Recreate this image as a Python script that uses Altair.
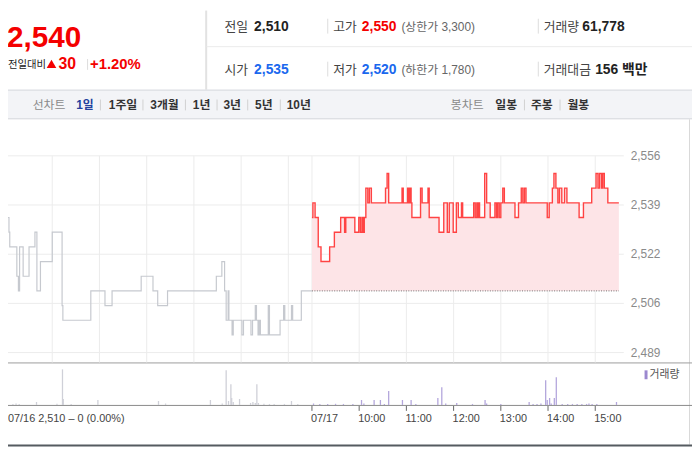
import altair as alt
import pandas as pd

# ---------------- data ----------------
current_price = "2,540"
change_abs = "30"
change_pct = "+1.20%"
change_caption = "전일대비"

info_labels_row1 = ["전일", "고가", "거래량"]
info_values_row1 = ["2,510", "2,550", "61,778"]
info_labels_row2 = ["시가", "저가", "거래대금"]
info_values_row2 = ["2,535", "2,520", "156 백만"]
limit_texts = ["(상한가 3,300)", "(하한가 1,780)"]

line_tabs_title = "선차트"
line_tabs = ["1일", "1주일", "3개월", "1년", "3년", "5년", "10년"]
candle_tabs_title = "봉차트"
candle_tabs = ["일봉", "주봉", "월봉"]

prev_close = 2510
session_minutes = 390  # 09:00 - 15:30

# previous day (07/16): minutes after 09:00 and price at each change
prev_t = [0, 5, 6, 15, 17, 18.5, 23, 30.5, 38, 40.5, 45, 60, 72.5, 73.5, 109, 127,
          136, 173, 188, 194, 206.5, 268.5, 275.5, 279, 281, 283.5, 284.5, 288.5,
          290, 301, 303, 312.5, 314.5, 318, 319.5, 321.5, 323, 324.5, 334.5, 336,
          349.5, 354, 355.5, 364, 365.5, 376.5, 390]
prev_p = [2535, 2530, 2525, 2515, 2510, 2525, 2515, 2525, 2530, 2510, 2520, 2530,
          2505, 2500, 2510, 2505, 2510, 2515, 2510, 2505, 2510, 2515, 2520, 2510,
          2500, 2510, 2500, 2495, 2500, 2495, 2500, 2495, 2500, 2505, 2500, 2495,
          2500, 2495, 2505, 2495, 2500, 2505, 2500, 2505, 2500, 2510, 2510]

# today (07/17)
today_t = [0, 1.2, 4, 8, 11.5, 22.5, 28.5, 36.5, 41.5, 43, 54.5, 59.5, 61.5, 63.5,
           65, 66.5, 68.5, 71, 73, 75.5, 93.5, 95.5, 97.5, 114.5, 116, 121.5, 123,
           124.5, 126, 127, 138, 140, 147.5, 149, 161.5, 167.5, 172, 174.5, 179.5,
           183.5, 186, 190, 191.5, 205.5, 207.5, 209.5, 211, 212, 213, 219.5, 222,
           226.5, 232.5, 234.5, 236, 238, 240, 242.5, 244.5, 258, 262.5, 266, 268,
           270, 272, 299, 301.5, 305.5, 307.5, 310, 312.5, 314.5, 317.5, 321, 324,
           339.5, 345, 355.5, 361, 363.5, 365.5, 368, 369.5, 371.5, 376, 390]
today_p = [2535, 2540, 2535, 2525, 2520, 2525, 2530, 2535, 2530, 2535, 2530, 2535,
           2530, 2535, 2530, 2535, 2545, 2540, 2545, 2540, 2545, 2550, 2540, 2545,
           2540, 2545, 2540, 2545, 2540, 2535, 2545, 2540, 2545, 2535, 2530, 2540,
           2530, 2540, 2530, 2540, 2535, 2540, 2535, 2540, 2535, 2540, 2535, 2540,
           2535, 2550, 2540, 2535, 2540, 2535, 2540, 2535, 2540, 2545, 2540, 2535,
           2540, 2545, 2540, 2545, 2540, 2535, 2540, 2545, 2550, 2545, 2540, 2545,
           2540, 2545, 2540, 2535, 2540, 2545, 2550, 2545, 2550, 2545, 2550, 2545,
           2540, 2540]

prev_vol_t = [10, 14, 18, 40, 66, 73, 74, 84, 118, 195, 204, 261, 276, 281, 284,
              287, 288, 290, 298, 312, 315, 318, 320, 322, 329, 336, 342, 355, 364, 372]
prev_vol = [350, 500, 350, 1050, 400, 12600, 2100, 350, 1750, 1400, 500, 1750, 500,
            12250, 1400, 7350, 2450, 1050, 2100, 700, 1050, 700, 7350, 700, 400, 350,
            350, 350, 1400, 350]

today_vol_t = [2, 10, 20, 30, 40, 52, 63, 66, 79, 87, 92, 97.5, 115, 126, 132, 160,
               165, 170, 184, 204, 220, 222, 240, 276, 281, 286, 291, 297, 299, 302,
               304, 308, 310.5, 318, 325, 331, 337, 343, 349, 352, 356, 362, 387]
today_vol = [500, 350, 350, 400, 350, 350, 1750, 500, 1750, 1750, 350, 4900, 1750,
             1750, 350, 2450, 6300, 500, 700, 350, 1750, 500, 350, 1050, 350, 350,
             500, 8750, 1750, 2450, 500, 2450, 9800, 350, 350, 350, 350, 350, 350,
             500, 350, 350, 1050]

price_ticks = [2489, 2505.75, 2522.5, 2539.25, 2556]
price_tick_labels = ["2,489", "2,506", "2,522", "2,539", "2,556"]
grid_minutes = [60, 120, 180, 240, 300, 360, 390, 450, 510, 570, 630, 690, 750]
time_ticks = [0, 390, 450, 510, 570, 630, 690, 750]
time_labels = ["07/17", "10:00", "11:00", "12:00", "13:00", "14:00", "15:00"]
first_day_label = "07/16  2,510 – 0 (0.00%)"
volume_label = "거래량"

# ---------------- build ----------------
FONT = "'Liberation Sans', Arial, 'Noto Sans CJK KR', sans-serif"
RED = "#f40000"
BLUE = "#1a68ee"

prev_df = pd.DataFrame({"m": prev_t, "p": prev_p})
today_df = pd.DataFrame({"m": [session_minutes + t for t in today_t], "p": today_p})
pvol_df = pd.DataFrame({"m": prev_vol_t, "v": prev_vol})
tvol_df = pd.DataFrame({"m": [session_minutes + t for t in today_vol_t], "v": today_vol})
grid_df = pd.DataFrame({"m": grid_minutes})
ptick_df = pd.DataFrame({"p": price_ticks, "lab": price_tick_labels})
tick_df = pd.DataFrame({"m": time_ticks})
tlab_df = pd.DataFrame({"m": time_ticks[1:], "lab": time_labels})
pc_df = pd.DataFrame({"m": [session_minutes, 2 * session_minutes], "p": [prev_close, prev_close]})
one = pd.DataFrame({"k": [0]})

XS = alt.Scale(domain=[0, 2 * session_minutes], range=[-8, 623], zero=False, nice=False)
PY = alt.Scale(domain=[2489, 2556], range=[346, 147], zero=False, nice=False)
VY = alt.Scale(domain=[0, 14000], range=[399, 359], zero=False, nice=False)

def X(field="m"):
    return alt.X(f"{field}:Q", scale=XS, axis=None)

def txt(s, x, y, size=12, color="#333", weight="normal", baseline="alphabetic", align="left"):
    return alt.Chart(one).mark_text(align=align, baseline=baseline, fontSize=size, color=color,
                                    fontWeight=weight, font=FONT).encode(
        x=alt.value(x), y=alt.value(y), text=alt.value(s))

def hline(x1, x2, y, color, w=1):
    return alt.Chart(one).mark_rule(color=color, strokeWidth=w).encode(
        x=alt.value(x1), x2=alt.value(x2), y=alt.value(y))

def vline(x, y1, y2, color, w=1):
    return alt.Chart(one).mark_rule(color=color, strokeWidth=w).encode(
        x=alt.value(x), y=alt.value(y1), y2=alt.value(y2))

layers = []

# toolbar background
layers.append(alt.Chart(one).mark_rect(color="#f3f4f7").encode(
    x=alt.value(0), x2=alt.value(692), y=alt.value(80), y2=alt.value(110)))

# frame lines
layers += [
    vline(200.5, 0, 80, "#e2e2e2", 2),
    hline(201, 692, 36.5, "#ebebeb"),
    hline(0, 692, 80.5, "#d6d8dd"),
    hline(0, 692, 109.5, "#d6d8dd"),
    vline(689.5, 110, 439, "#d9d9d9"),
    hline(0, 692, 356.5, "#9c9c9c"),
    hline(0, 692, 399.5, "#8a8a8a"),
    hline(0, 692, 440, "#555b60", 2),
]

# grid
layers.append(alt.Chart(grid_df).mark_rule(color="#ececec", strokeWidth=1).encode(
    x=X(), y=alt.value(147), y2=alt.value(356)))
layers.append(alt.Chart(ptick_df).mark_rule(color="#ececec", strokeWidth=1).encode(
    y=alt.Y("p:Q", scale=PY, axis=None), x=alt.value(-8), x2=alt.value(623)))
layers.append(alt.Chart(ptick_df).mark_text(align="left", baseline="middle", fontSize=12,
                                           color="#8a8a8a", font=FONT).encode(
    y=alt.Y("p:Q", scale=PY, axis=None), x=alt.value(630), text="lab:N"))

# price
layers.append(alt.Chart(today_df).mark_area(interpolate="step-after", color="#fde4e7").encode(
    x=X(), y=alt.Y("p:Q", scale=PY, axis=None), y2=alt.datum(prev_close)))
layers.append(alt.Chart(pc_df).mark_line(color="#6e6e6e", strokeWidth=1, strokeDash=[1, 1.5]).encode(
    x=X(), y=alt.Y("p:Q", scale=PY, axis=None)))
layers.append(alt.Chart(prev_df).mark_line(interpolate="step-after", color="#c6c9cf", strokeWidth=1.2).encode(
    x=X(), y=alt.Y("p:Q", scale=PY, axis=None)))
layers.append(alt.Chart(today_df).mark_line(interpolate="step-after", color="#ff4343", strokeWidth=1.4).encode(
    x=X(), y=alt.Y("p:Q", scale=PY, axis=None)))

# volume
layers.append(alt.Chart(pvol_df).mark_bar(size=1.3, color="#cfd0d8").encode(
    x=X(), y=alt.Y("v:Q", scale=VY, axis=None), y2=alt.datum(0)))
layers.append(alt.Chart(tvol_df).mark_bar(size=1.3, color="#b3a6dc").encode(
    x=X(), y=alt.Y("v:Q", scale=VY, axis=None), y2=alt.datum(0)))
layers.append(alt.Chart(one).mark_rect(color="#9b88cf").encode(
    x=alt.value(644), x2=alt.value(647), y=alt.value(364), y2=alt.value(373)))
layers.append(txt(volume_label, 649, 369, 11, "#555", baseline="middle"))

# time axis
layers.append(alt.Chart(tick_df).mark_rule(color="#666", strokeWidth=1).encode(
    x=X(), y=alt.value(400), y2=alt.value(405)))
layers.append(alt.Chart(tlab_df).mark_text(align="left", baseline="middle", fontSize=11, dx=-1,
                                          color="#444", font=FONT).encode(
    x=X(), y=alt.value(413), text="lab:N"))
layers.append(txt(first_day_label, 0, 413, 11, "#444", baseline="middle"))

# header: left panel
layers.append(txt(current_price, -1, 37, 30, RED, "bold"))
layers.append(txt(change_caption, 0, 58.5, 10.5, "#222"))
layers.append(alt.Chart(one).mark_point(shape="triangle-up", filled=True, size=95, color=RED, opacity=1).encode(
    x=alt.value(44), y=alt.value(54)))
layers.append(txt(change_abs, 51, 58.7, 16, RED, "bold"))
layers.append(vline(80.5, 49, 60, "#dddddd"))
layers.append(txt(change_pct, 83, 58.7, 15, RED, "bold"))

# header: right panel
row_base = [20.3, 63.7]
label_x = [219, 329, 542]
value_x = [249, 358, 581]
sep_x = [323.5, 536.5]
for r, (labs, vals) in enumerate([(info_labels_row1, info_values_row1),
                                  (info_labels_row2, info_values_row2)]):
    yb = row_base[r]
    for i in range(3):
        layers.append(txt(labs[i], label_x[i], yb, 13, "#444"))
    vcol = ["#222" if r == 0 else BLUE, RED if r == 0 else BLUE, "#222"]
    vx = list(value_x)
    if r == 1:
        vx[2] = 594
    for i in range(3):
        layers.append(txt(vals[i], vx[i], yb, 14, vcol[i], "bold"))
    layers.append(txt(limit_texts[r], 398, yb, 12, "#666"))
    for sx in sep_x:
        layers.append(vline(sx, yb - 12, yb + 3, "#dddddd"))

# toolbar
TY = 95.5
layers.append(txt(line_tabs_title, 25, TY, 12, "#8a8a8a", baseline="middle"))
tab_x = [69, 102, 144, 187, 218, 250, 282]
tab_sep = [93.5, 136.5, 179.5, 211.5, 242.5, 275.5]
for i, t in enumerate(line_tabs):
    layers.append(txt(t, tab_x[i], TY, 12, "#23429e" if i == 0 else "#333", "bold", baseline="middle"))
for sx in tab_sep:
    layers.append(vline(sx, 90, 101, "#d0d0d0"))
layers.append(txt(candle_tabs_title, 448, TY, 12, "#8a8a8a", baseline="middle"))
for i, t in enumerate(candle_tabs):
    layers.append(txt(t, [493, 529, 566][i], TY, 12, "#333", "bold", baseline="middle"))
for sx in [522.5, 558.5]:
    layers.append(vline(sx, 90, 101, "#d0d0d0"))

chart = alt.layer(*layers).resolve_scale(y="independent").properties(
    width=692, height=442,
    autosize=alt.AutoSizeParams(type="none"),
    padding=0,
    background="white",
).configure_view(stroke=None)

chart.save("out.html", embed_options={"renderer": "svg", "actions": False})
